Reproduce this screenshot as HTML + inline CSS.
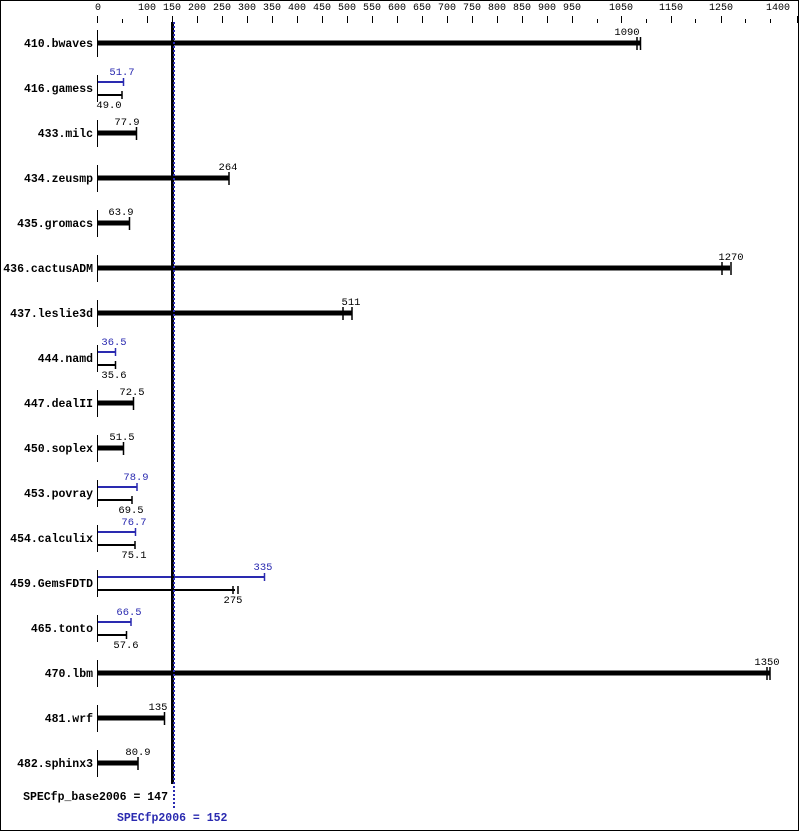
<!DOCTYPE html>
<html><head><meta charset="utf-8"><style>
html,body{margin:0;padding:0;background:#fff}
svg{display:block}
text{font-family:"Liberation Mono","DejaVu Sans Mono",monospace}
.t{font-size:10px;text-anchor:middle}
.l{font-size:11.5px;font-weight:bold;text-anchor:end}
.v{font-size:10.5px;text-anchor:middle}
.b{fill:#2a2ab0}
</style></head><body>
<svg width="799" height="831" viewBox="0 0 799 831" xmlns="http://www.w3.org/2000/svg">
<rect x="0.5" y="0.5" width="798" height="830" fill="#fff" stroke="#000"/>
<!-- top axis -->
<g class="t">
<text x="98" y="10">0</text><text x="147" y="10">100</text><text x="172" y="10">150</text><text x="197" y="10">200</text><text x="222" y="10">250</text><text x="247" y="10">300</text><text x="272" y="10">350</text><text x="297" y="10">400</text><text x="322" y="10">450</text><text x="347" y="10">500</text><text x="372" y="10">550</text><text x="397" y="10">600</text><text x="422" y="10">650</text><text x="447" y="10">700</text><text x="472" y="10">750</text><text x="497" y="10">800</text><text x="522" y="10">850</text><text x="547" y="10">900</text><text x="572" y="10">950</text><text x="621" y="10">1050</text><text x="671" y="10">1150</text><text x="721" y="10">1250</text><text x="778" y="10">1400</text>
</g>
<g stroke="#000" stroke-width="1">
<path d="M97.5 16V23M147.5 16V23M172.5 16V23M197.5 16V23M222.5 16V23M247.5 16V23M272.5 16V23M297.5 16V23M322.5 16V23M347.5 16V23M372.5 16V23M397.5 16V23M422.5 16V23M447.5 16V23M472.5 16V23M497.5 16V23M522.5 16V23M547.5 16V23M572.5 16V23M621.5 16V23M671.5 16V23M721.5 16V23M797.5 16V23"/>
<path d="M122.5 19V23M597.5 19V23M646.5 19V23M695.5 19V23M745.5 19V23M770.5 19V23"/>
<!-- left ticks per row -->
<path d="M97.5 30V57M97.5 75V102M97.5 120V147M97.5 165V192M97.5 210V237M97.5 255V282M97.5 300V327M97.5 345V372M97.5 390V417M97.5 435V462M97.5 480V507M97.5 525V552M97.5 570V597M97.5 615V642M97.5 660V687M97.5 705V732M97.5 750V777"/>
</g>
<!-- labels -->
<g class="l">
<text x="93" y="47">410.bwaves</text><text x="93" y="92">416.gamess</text><text x="93" y="137">433.milc</text><text x="93" y="182">434.zeusmp</text><text x="93" y="227">435.gromacs</text><text x="93" y="272">436.cactusADM</text><text x="93" y="317">437.leslie3d</text><text x="93" y="362">444.namd</text><text x="93" y="407">447.dealII</text><text x="93" y="452">450.soplex</text><text x="93" y="497">453.povray</text><text x="93" y="542">454.calculix</text><text x="93" y="587">459.GemsFDTD</text><text x="93" y="632">465.tonto</text><text x="93" y="677">470.lbm</text><text x="93" y="722">481.wrf</text><text x="93" y="767">482.sphinx3</text>
</g>
<!-- thick single bars -->
<g fill="#000">
<rect x="98" y="40.5" width="542" height="5"/>
<rect x="98" y="130.5" width="38" height="5"/>
<rect x="98" y="175.5" width="131" height="5"/>
<rect x="98" y="220.5" width="31" height="5"/>
<rect x="98" y="265.5" width="632" height="5"/>
<rect x="98" y="310.5" width="254" height="5"/>
<rect x="98" y="400.5" width="36" height="5"/>
<rect x="98" y="445.5" width="25" height="5"/>
<rect x="98" y="670.5" width="672" height="5"/>
<rect x="98" y="715.5" width="67" height="5"/>
<rect x="98" y="760.5" width="40" height="5"/>
</g>
<g stroke="#000" stroke-width="1.5">
<path d="M637 37V50M640.5 37V50M136.5 127V140M229 172V185M129.5 217V230M722 262V275M731 262V275M343 307V320M352 307V320M133.5 397V410M123.5 442V455M767 667V680M770 667V680M164.5 712V725M138 757V770"/>
</g>
<!-- dual bars: blue peak above, black base below -->
<g stroke="#2a2ab0" stroke-width="2">
<path d="M98 82H123M98 352H116M98 487H137M98 532H136M98 577H264M98 622H131"/>
</g>
<g stroke="#2a2ab0" stroke-width="1.5">
<path d="M123.5 78V86M115.5 348V356M137 483V491M135.5 528V536M264.5 573V581M131 618V626"/>
</g>
<g stroke="#000" stroke-width="2">
<path d="M98 95H122M98 365H115M98 500H132M98 545H135M98 590H235M98 635H126"/>
</g>
<g stroke="#000" stroke-width="1.5">
<path d="M122 91V99M115.5 361V369M132 496V504M135 541V549M233 586V594M238 586V594M126.5 631V639"/>
</g>
<!-- value labels -->
<g class="v">
<text x="627" y="35">1090</text>
<text x="127" y="125">77.9</text>
<text x="228" y="170">264</text>
<text x="121" y="215">63.9</text>
<text x="731" y="260">1270</text>
<text x="351" y="305">511</text>
<text x="132" y="395">72.5</text>
<text x="122" y="440">51.5</text>
<text x="767" y="665">1350</text>
<text x="158" y="710">135</text>
<text x="138" y="755">80.9</text>
<text x="109" y="108">49.0</text>
<text x="114" y="378">35.6</text>
<text x="131" y="513">69.5</text>
<text x="134" y="558">75.1</text>
<text x="233" y="603">275</text>
<text x="126" y="648">57.6</text>
</g>
<g class="v b">
<text x="122" y="75">51.7</text>
<text x="114" y="345">36.5</text>
<text x="136" y="480">78.9</text>
<text x="134" y="525">76.7</text>
<text x="263" y="570">335</text>
<text x="129" y="615">66.5</text>
</g>
<!-- reference lines -->
<rect x="171" y="22" width="3" height="762" fill="#000"/>
<line x1="174" y1="22" x2="174" y2="810" stroke="#2a2ab0" stroke-width="2" stroke-dasharray="2,2"/>
<text x="168" y="800" class="l">SPECfp_base2006 = 147</text>
<text x="117" y="821" style="font-size:11.5px;font-weight:bold" class="b">SPECfp2006 = 152</text>
</svg>
</body></html>
